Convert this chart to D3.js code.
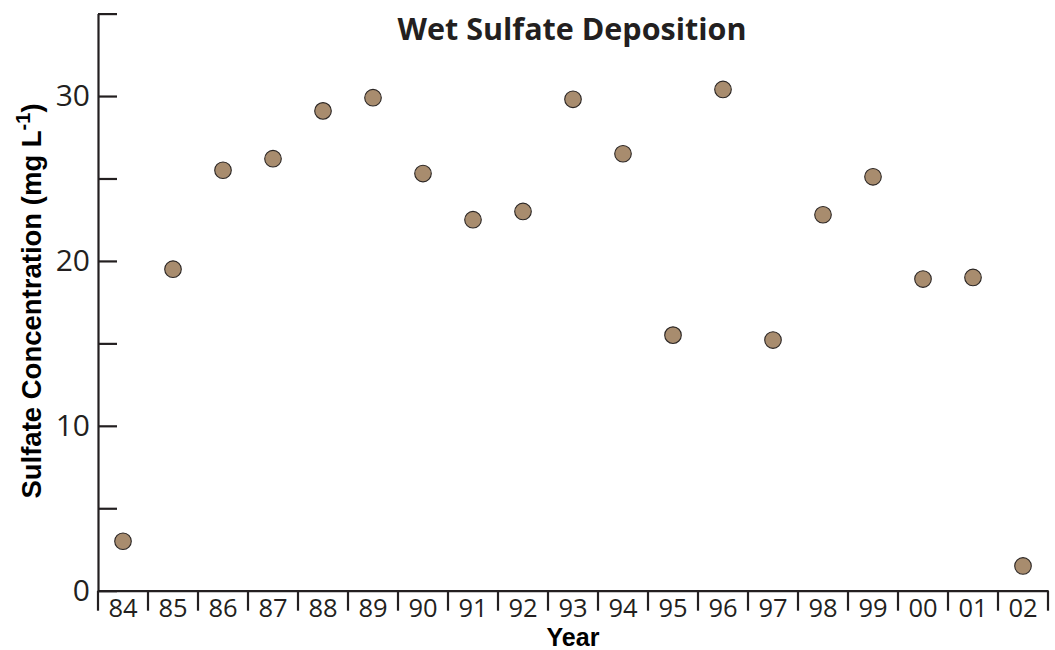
<!DOCTYPE html>
<html>
<head>
<meta charset="utf-8">
<script src="https://cdn.jsdelivr.net/npm/d3@7"></script>
<style>
  html, body { margin: 0; padding: 0; background: #fff; }
  svg { display: block; }
</style>
</head>
<body>
<svg id="chart" width="1055" height="650"></svg>
<script>
// ---- data ----
const years = ["84","85","86","87","88","89","90","91","92","93","94","95","96","97","98","99","00","01","02"];
const sulfate = [3.0, 19.5, 25.5, 26.2, 29.1, 29.9, 25.3, 22.5, 23.0, 29.8, 26.5, 15.5, 30.4, 15.2, 22.8, 25.1, 18.9, 19.0, 1.5];
const yTickValues = [0, 5, 10, 15, 20, 25, 30, 35];
const yLabelValues = [0, 10, 20, 30];
const titleText = "Wet Sulfate Deposition";
const xTitle = "Year";
const yTitle = "Sulfate Concentration (mg L";
const yTitleSup = "-1";

const svg = d3.select("#chart");
const mLeft = 98, mRight = 1048, mTop = 13.6, mBottom = 590.7;

const x = d3.scaleBand().domain(years).range([mLeft, mRight]).padding(0);
const y = d3.scaleLinear().domain([0, 35]).range([mBottom, mTop]);

const axisColor = "#231f20";

// Y axis
const yAxis = d3.axisLeft(y)
  .tickValues(yTickValues)
  .tickSizeInner(-19)
  .tickSizeOuter(0)
  .tickPadding(8)
  .tickFormat(d => yLabelValues.includes(d) ? d : "");
const gy = svg.append("g").attr("transform", `translate(${mLeft},0)`).call(yAxis);
gy.select(".domain").attr("stroke", axisColor).attr("stroke-width", 2.2);
gy.selectAll(".tick line").attr("stroke", axisColor).attr("stroke-width", 2.2);
gy.selectAll(".tick text")
  .attr("fill", axisColor)
  .style("font-family", "'Open Sans', sans-serif")
  .style("font-size", "30px");

// X axis
const xAxis = d3.axisBottom(x).tickSize(0).tickSizeOuter(0).tickPadding(8);
const gx = svg.append("g").attr("transform", `translate(0,${mBottom})`).call(xAxis);
gx.select(".domain").attr("stroke", axisColor).attr("stroke-width", 2.2);
gx.selectAll(".tick text")
  .attr("fill", axisColor)
  .style("font-family", "'Open Sans', sans-serif")
  .style("font-size", "25.5px");

// boundary ticks between categories
const bounds = years.map(d => x(d)).concat([x(years[years.length - 1]) + x.bandwidth()]);
gx.selectAll(".bound").data(bounds).join("line")
  .attr("class", "bound")
  .attr("x1", d => d).attr("x2", d => d)
  .attr("y1", 0).attr("y2", 20)
  .attr("stroke", axisColor).attr("stroke-width", 2.2);

// Points
svg.append("g").selectAll("circle").data(years.map((d, i) => ({ yr: d, v: sulfate[i] })))
  .join("circle")
  .attr("cx", d => x(d.yr) + x.bandwidth() / 2)
  .attr("cy", d => y(d.v))
  .attr("r", 8.3)
  .attr("fill", "#a88c6e")
  .attr("stroke", "#2b2624")
  .attr("stroke-width", 1.1);

// Title
svg.append("text")
  .attr("x", 572).attr("y", 40)
  .attr("text-anchor", "middle")
  .style("font-family", "'Open Sans', sans-serif")
  .style("font-weight", "700")
  .style("font-size", "30.5px")
  .attr("fill", axisColor)
  .text(titleText);

// X title
svg.append("text")
  .attr("x", 573).attr("y", 646)
  .attr("text-anchor", "middle")
  .style("font-family", "'Liberation Sans', Arial, sans-serif")
  .style("font-weight", "700")
  .style("font-size", "25px")
  .attr("fill", "#000")
  .text(xTitle);

// Y title
const yt = svg.append("text")
  .attr("transform", `translate(41,301) rotate(-90)`)
  .attr("text-anchor", "middle")
  .style("font-family", "'Liberation Sans', Arial, sans-serif")
  .style("font-weight", "700")
  .style("font-size", "27.5px")
  .attr("fill", "#000");
yt.append("tspan").text(yTitle);
yt.append("tspan").attr("dy", -11).style("font-size", "20px").text(yTitleSup);
yt.append("tspan").attr("dy", 11).text(")");
</script>
</body>
</html>
